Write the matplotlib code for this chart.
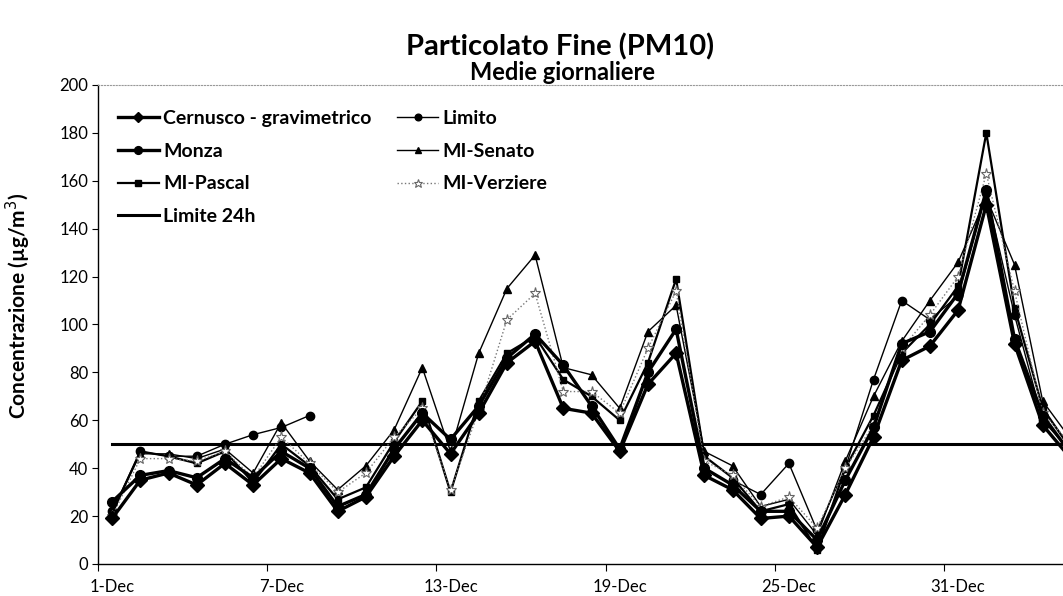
import numpy as np
import pandas as pd
import matplotlib
matplotlib.use("Agg")
import matplotlib.pyplot as plt
from matplotlib.ticker import FixedLocator, NullFormatter, FixedFormatter

plt.rcParams['font.family'] = ['Lato', 'DejaVu Sans']

# giorni: 1 dicembre -> 4 gennaio
giorni = pd.date_range('2011-12-01', periods=35, freq='D')
nan = np.nan

cernusco = [19, 35, 38, 33, 42, 33, 44, 38, 22, 28, 45, 60, 46, 63, 84, 93, 65, 63,
            47, 75, 88, 37, 31, 19, 20, 7, 29, 53, 85, 91, 106, 150, 92, 58, 44]
monza = [26, 37, 39, 36, 44, 36, 47, 40, 24, 29, 48, 63, 52, 66, 86, 96, 83, 66,
         48, 80, 98, 40, 33, 22, 22, 10, 35, 57, 92, 97, 113, 156, 94, 62, 46]
pascal = [21, 47, 45, 42, 47, 34, 50, 41, 27, 32, 51, 68, 30, 68, 88, 95, 77, 70,
          60, 84, 119, 45, 36, 22, 25, 6, 40, 62, 88, 100, 116, 180, 107, 65, 48]
limito = [22, 47, 45, 45, 50, 54, 57, 62, nan, nan, nan, nan, nan, nan, nan, nan, nan, nan,
          nan, nan, nan, nan, 35, 29, 42, 14, 40, 77, 110, 102, 112, 155, 104, 60, 47]
senato = [22, 46, 46, 44, 48, 38, 59, 43, 31, 41, 56, 82, 47, 88, 115, 129, 82, 79,
          65, 97, 108, 47, 41, 24, 27, 12, 43, 70, 93, 110, 126, 153, 125, 68, 52]
verziere = [20, 44, 44, 43, 47, 36, 53, 42, 30, 38, 53, 65, 31, 64, 102, 113, 72, 72,
            63, 90, 114, 43, 37, 24, 28, 15, 40, 58, 90, 104, 120, 163, 114, 63, 50]
limite_24h = [50] * len(giorni)

etichette_x = ['1-Dec', '7-Dec', '13-Dec', '19-Dec', '25-Dec', '31-Dec']
pos_etichette = [0, 6, 12, 18, 24, 30]

fig = plt.figure(figsize=(10.63, 5.96), dpi=100)
ax = fig.add_axes([0.0922, 0.0537, 0.9285, 0.8037])

x = np.arange(len(giorni))

l_cern, = ax.plot(x, cernusco, color='black', lw=2.4, marker='D', ms=7,
                  label='Cernusco - gravimetrico', zorder=6)
l_monza, = ax.plot(x, monza, color='black', lw=2.4, marker='o', ms=7,
                   label='Monza', zorder=6)
l_pascal, = ax.plot(x, pascal, color='black', lw=1.6, marker='s', ms=5,
                    label='MI-Pascal', zorder=5)
l_lim24, = ax.plot(x, limite_24h, color='black', lw=2.2,
                   label='Limite 24h', zorder=4)
l_limito, = ax.plot(x, limito, color='black', lw=1.0, marker='o', ms=6,
                    label='Limito', zorder=5)
l_senato, = ax.plot(x, senato, color='black', lw=1.0, marker='^', ms=6,
                    label='MI-Senato', zorder=5)
l_verz, = ax.plot(x, verziere, color='#777777', lw=1.0, ls=':', marker='*', ms=8,
                  mfc='white', mec='#666666', mew=0.8, label='MI-Verziere', zorder=5)

ax.set_xlim(-0.5, 34.5)
ax.set_ylim(0, 200)
ax.set_yticks(np.arange(0, 201, 20))
ax.tick_params(axis='y', labelsize=12, length=4, direction='out', width=0.8, pad=3)

# tacche ai confini, etichette al centro del giorno
ax.xaxis.set_major_locator(FixedLocator([p - 0.5 for p in pos_etichette]))
ax.xaxis.set_major_formatter(NullFormatter())
ax.xaxis.set_minor_locator(FixedLocator(pos_etichette))
ax.xaxis.set_minor_formatter(FixedFormatter(etichette_x))
ax.tick_params(axis='x', which='major', length=5, direction='out', width=0.8)
ax.tick_params(axis='x', which='minor', length=0, labelsize=12, pad=11)

ax.spines['top'].set_linestyle(':')
ax.spines['top'].set_color('#999999')
ax.spines['top'].set_linewidth(0.8)
ax.spines['right'].set_visible(False)
ax.spines['left'].set_linewidth(1.0)
ax.spines['bottom'].set_linewidth(1.0)

ax.set_ylabel('Concentrazione (µg/m$^3$)', fontsize=15, fontweight='bold')
ax.yaxis.set_label_coords(-0.066, 0.54)

fig.text(0.527, 0.922, 'Particolato Fine (PM10)', ha='center', va='center',
         fontsize=21, fontweight='bold')
fig.text(0.529, 0.879, 'Medie giornaliere', ha='center', va='center',
         fontsize=17, fontweight='bold')

handles = [l_cern, l_monza, l_pascal, l_lim24, l_limito, l_senato, l_verz]
leg = ax.legend(handles=handles, ncol=2, loc='upper left',
                bbox_to_anchor=(0.1035, 0.828), bbox_transform=fig.transFigure,
                borderaxespad=0, frameon=False, prop={'weight': 'bold', 'size': 14},
                handlelength=2.1, handletextpad=0.25, columnspacing=1.3,
                labelspacing=0.8, markerscale=0.8)

fig.savefig('out.png', dpi=100)
plt.close(fig)
